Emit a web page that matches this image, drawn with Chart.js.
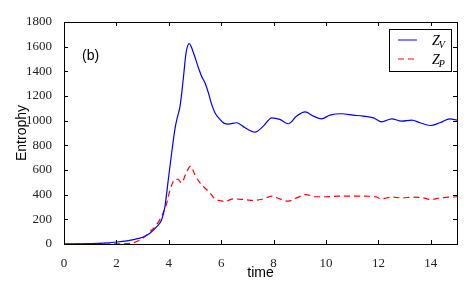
<!DOCTYPE html>
<html>
<head>
<meta charset="utf-8">
<script src="https://cdn.jsdelivr.net/npm/chart.js@4.4.0/dist/chart.umd.min.js"></script>
<style>
  html, body { margin: 0; padding: 0; background: #fff; }
  #grafico { display: block; }
</style>
</head>
<body>
<canvas id="grafico" width="474" height="296"></canvas>
<script>
// dados (b)
const tempoV = [0, 0.5, 1.0, 1.5, 2.0, 2.4, 2.7, 3.0, 3.28, 3.54, 3.73, 3.85, 3.98, 4.11, 4.24, 4.33, 4.43, 4.55, 4.66, 4.78,
  4.94, 5.13, 5.25, 5.38, 5.51, 5.64, 5.76, 5.95, 6.1, 6.27, 6.59, 6.91, 7.29, 7.61, 7.93, 8.24, 8.56, 8.88, 9.2, 9.52,
  9.83, 10.15, 10.6, 11.04, 11.42, 11.81, 12.13, 12.51, 12.89, 13.27, 13.59, 13.97, 14.35, 14.73, 15.0];
const entropiaV = [0, 1, 3, 7, 16, 26, 38, 55, 88, 140, 199, 300, 520, 740, 940, 1030, 1118, 1334, 1551, 1624,
  1551, 1429, 1361, 1307, 1226, 1130, 1064, 1010, 980, 972, 983, 942, 907, 956, 1023, 1010, 975, 1037, 1072, 1037,
  1015, 1045, 1056, 1045, 1037, 1023, 991, 1015, 996, 1004, 983, 961, 983, 1015, 1004];

const tempoP = [0, 1.0, 2.0, 2.4, 2.65, 3.03, 3.28, 3.54, 3.73, 3.85, 3.92, 4.05, 4.24, 4.35, 4.49, 4.65, 4.83,
  5.0, 5.19, 5.4, 5.57, 5.76, 6.0, 6.15, 6.46, 6.84, 7.23, 7.61, 7.93, 8.24, 8.56, 8.88, 9.24, 9.58, 10.0,
  10.45, 10.9, 11.4, 11.9, 12.1, 12.5, 12.9, 13.3, 13.7, 14.0, 14.35, 15.0];
const entropiaP = [0, 0, 1, 3, 10, 50, 100, 158, 226, 290, 330, 442, 523, 525, 496, 570, 631,
  560, 496, 450, 415, 367, 350, 345, 366, 361, 353, 366, 388, 366, 347, 374, 401, 383, 383,
  388, 388, 388, 383, 366, 380, 374, 380, 374, 361, 374, 383];

const ticksX = [0, 2, 4, 6, 8, 10, 12, 14];
const ticksY = [0, 200, 400, 600, 800, 1000, 1200, 1400, 1600, 1800];

function juntar(xs, ys) {
    let pontos = [];
    for (let i = 0; i < xs.length; i++) {
        pontos.push({ x: xs[i], y: ys[i] });
    }
    return pontos;
}

// moldura com ticks para dentro, estilo matplotlib
const moldura = {
    id: 'moldura',
    afterDatasetsDraw(chart) {
        const ctx = chart.ctx;
        const a = chart.chartArea;
        const sx = chart.scales.x;
        const sy = chart.scales.y;
        ctx.save();
        ctx.strokeStyle = '#000';
        ctx.lineWidth = 1;
        ctx.beginPath();
        ticksX.forEach(v => {
            const px = Math.round(sx.getPixelForValue(v)) + 0.5;
            ctx.moveTo(px, a.bottom); ctx.lineTo(px, a.bottom - 4);
            ctx.moveTo(px, a.top); ctx.lineTo(px, a.top + 4);
        });
        ticksY.forEach(v => {
            const py = Math.round(sy.getPixelForValue(v)) + 0.5;
            ctx.moveTo(a.left, py); ctx.lineTo(a.left + 4, py);
            ctx.moveTo(a.right, py); ctx.lineTo(a.right - 4, py);
        });
        ctx.stroke();
        ctx.strokeRect(Math.round(a.left) + 0.5, Math.round(a.top) + 0.5,
            Math.round(a.right - a.left), Math.round(a.bottom - a.top));

        // rótulo (b)
        ctx.fillStyle = '#000';
        ctx.font = '14px "Liberation Sans", Arial, sans-serif';
        ctx.textBaseline = 'middle';
        ctx.textAlign = 'left';
        ctx.fillText('(b)', a.left + 18, a.top + 34);
        ctx.restore();
    }
};

// legenda dentro do gráfico, canto superior direito
const legenda = {
    id: 'legenda',
    afterDraw(chart) {
        const ctx = chart.ctx;
        const a = chart.chartArea;
        const caixa = { x: a.right - 68, y: a.top + 7, w: 62, h: 42 };
        ctx.save();
        ctx.fillStyle = '#fff';
        ctx.fillRect(caixa.x, caixa.y, caixa.w, caixa.h);
        ctx.strokeStyle = '#000';
        ctx.lineWidth = 1;
        ctx.strokeRect(caixa.x + 0.5, caixa.y + 0.5, caixa.w, caixa.h);

        chart.data.datasets.forEach((ds, i) => {
            const y = caixa.y + 11 + i * 19;
            ctx.strokeStyle = ds.borderColor;
            ctx.setLineDash(ds.borderDash || []);
            ctx.beginPath();
            ctx.moveTo(caixa.x + 9, y);
            ctx.lineTo(caixa.x + 28, y);
            ctx.stroke();
            ctx.setLineDash([]);

            const partes = ds.label.split('_');
            ctx.fillStyle = '#000';
            ctx.textBaseline = 'alphabetic';
            ctx.textAlign = 'left';
            ctx.font = 'italic 14px "Liberation Serif", "DejaVu Serif", serif';
            const x0 = caixa.x + 43;
            ctx.fillText(partes[0], x0, y + 5);
            const w = ctx.measureText(partes[0]).width;
            ctx.font = 'italic 10px "Liberation Serif", "DejaVu Serif", serif';
            ctx.fillText(partes[1], x0 + w - 1, y + 8);
        });
        ctx.restore();
    }
};

const fonteTicks = { family: '"Liberation Serif", "DejaVu Serif", serif', size: 13 };
const fonteTitulo = { family: '"Liberation Sans", Arial, sans-serif', size: 14 };

const config = {
    type: 'line',
    data: {
        datasets: [{
            label: 'Z_V',
            data: juntar(tempoV, entropiaV),
            borderColor: '#0000ff',
            borderWidth: 1.2,
            pointRadius: 0,
            cubicInterpolationMode: 'monotone',
            fill: false
        }, {
            label: 'Z_P',
            data: juntar(tempoP, entropiaP),
            borderColor: '#ff0000',
            borderWidth: 1.2,
            borderDash: [6, 4],
            pointRadius: 0,
            cubicInterpolationMode: 'monotone',
            fill: false
        }]
    },
    options: {
        responsive: false,
        animation: false,
        layout: { padding: { top: 22, right: 17, left: 0, bottom: 0 } },
        plugins: {
            legend: { display: false },
            tooltip: { enabled: false }
        },
        scales: {
            x: {
                type: 'linear',
                min: 0,
                max: 15,
                afterBuildTicks: (s) => { s.ticks = ticksX.map(v => ({ value: v })); },
                afterFit: (s) => { s.height = 52; },
                grid: { display: false },
                border: { display: false },
                ticks: { font: fonteTicks, color: '#222', padding: 4, maxRotation: 0, callback: (v) => String(v) },
                title: { display: true, text: 'time', font: fonteTitulo, color: '#000', padding: { top: 14, bottom: 14 } }
            },
            y: {
                type: 'linear',
                min: 0,
                max: 1800,
                afterBuildTicks: (s) => { s.ticks = ticksY.map(v => ({ value: v })); },
                afterFit: (s) => { s.width = 64; },
                grid: { display: false },
                border: { display: false },
                ticks: { font: fonteTicks, color: '#222', padding: 4, callback: (v) => String(v) },
                title: { display: true, text: 'Entrophy', font: fonteTitulo, color: '#000', padding: { top: 14, bottom: 14 } }
            }
        }
    },
    plugins: [moldura, legenda]
};

let meuGrafico = new Chart(document.getElementById('grafico').getContext('2d'), config);
</script>
</body>
</html>
